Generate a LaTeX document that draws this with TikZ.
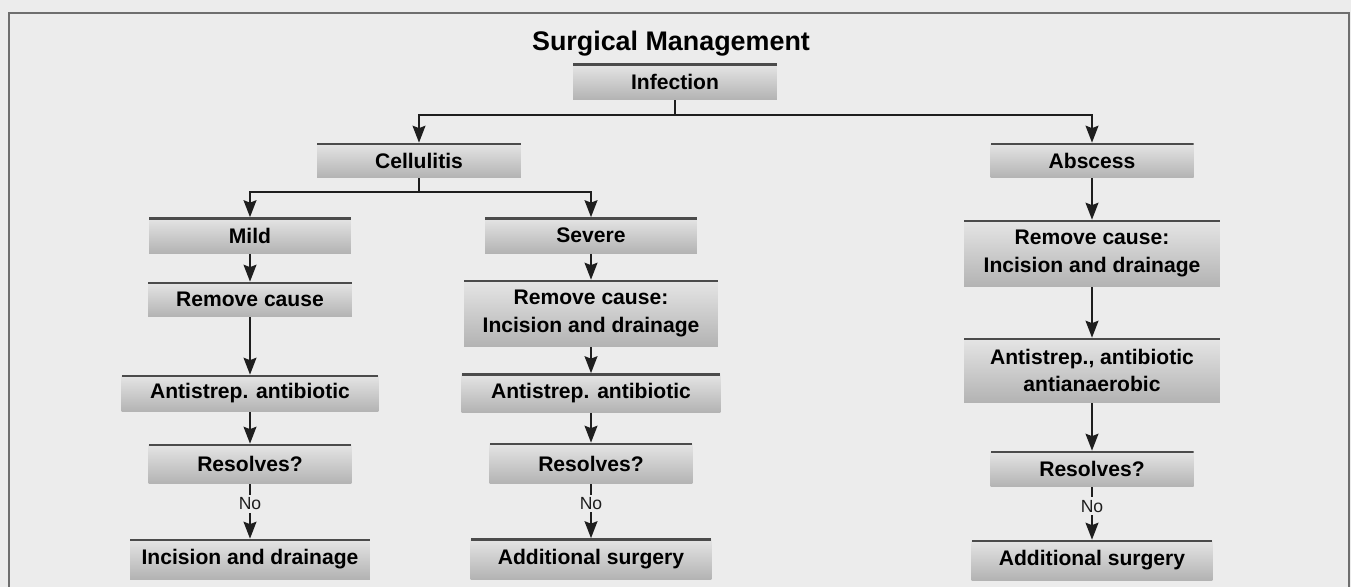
\documentclass[tikz,border=0pt]{standalone}
\usepackage{fontspec}
\setmainfont{Liberation Sans}
\usepackage{tikz}
\usetikzlibrary{arrows.meta,positioning}
\definecolor{pagegray}{RGB}{236, 236, 236}
\definecolor{framegray}{RGB}{110, 110, 110}
\definecolor{rulegray}{RGB}{75, 75, 75}
\definecolor{linkblack}{RGB}{30, 30, 30}

\begin{document}
\begin{tikzpicture}[x=0.02cm, y=-0.02cm,
    stagebox/.style={top color=black!10, bottom color=black!30, draw=none, inner sep=0pt, align=center, font=\fontsize{12}{15.4}\selectfont\bfseries, path picture={\draw[rulegray, line width=0.8mm] (path picture bounding box.north west) -- (path picture bounding box.north east);}},
    flow/.style={line width=0.9pt, linkblack, -{Stealth[length=3.4mm, width=2.6mm, inset=0.5mm]}},
    link/.style={line width=0.9pt, linkblack},
    nolabel/.style={fill=pagegray, inner sep=1.5pt, font=\fontsize{10}{12}\selectfont}]
    % Page and frame
    \fill[pagegray] (0,0) rectangle (1351,587);
    \useasboundingbox (0,0) rectangle (1351,587);
    \draw[framegray, line width=1.2pt] (9,587) -- (9,13) -- (1349,13) -- (1349,587);

    % Title
    \node[font=\fontsize{15.3}{18}\selectfont\bfseries] (title) at (671,44) {Surgical Management};

    % Top levels
    \node[stagebox, minimum width=4.08cm, minimum height=0.72cm] (inf) at (675,82) {Infection};
    \node[stagebox, minimum width=4.08cm, minimum height=0.70cm] (cel) at (419,160.5) {Cellulitis};
    \node[stagebox, minimum width=4.06cm, minimum height=0.70cm] (abs) at (1092,160.5) {Abscess};

    % Mild column
    \node[stagebox, minimum width=4.04cm, minimum height=0.72cm] (mild) at (250,235.5) {Mild};
    \node[stagebox, minimum width=4.08cm, minimum height=0.70cm] (rcm) at (250,299.5) {Remove cause};
    \node[stagebox, minimum width=5.14cm, minimum height=0.74cm] (abm) at (250,393.5) {Antistrep. antibiotic};
    \node[stagebox, minimum width=4.06cm, minimum height=0.80cm] (resm) at (250,464) {Resolves?};
    \node[stagebox, minimum width=4.80cm, minimum height=0.80cm] (incm) at (250,559) {Incision and drainage};

    % Severe column
    \node[stagebox, minimum width=4.24cm, minimum height=0.72cm] (sev) at (591,235.5) {Severe};
    \node[stagebox, minimum width=5.08cm, minimum height=1.34cm] (rcs) at (591,313.5) {Remove cause:\\Incision and drainage};
    \node[stagebox, minimum width=5.18cm, minimum height=0.78cm] (abs2) at (591,393) {Antistrep. antibiotic};
    \node[stagebox, minimum width=4.06cm, minimum height=0.82cm] (ress) at (591,463.5) {Resolves?};
    \node[stagebox, minimum width=4.82cm, minimum height=0.82cm] (adds) at (591,559) {Additional surgery};

    % Abscess column
    \node[stagebox, minimum width=5.12cm, minimum height=1.34cm] (rca) at (1092,253.5) {Remove cause:\\Incision and drainage};
    \node[stagebox, minimum width=5.12cm, minimum height=1.30cm] (aba) at (1092,370.5) {Antistrep., antibiotic\\antianaerobic};
    \node[stagebox, minimum width=4.06cm, minimum height=0.72cm] (resa) at (1092,469) {Resolves?};
    \node[stagebox, minimum width=4.82cm, minimum height=0.80cm] (adda) at (1092,560) {Additional surgery};

    % Branches
    \coordinate (infj) at (675,115);
    \coordinate (celj) at (419,192);
    \draw[link] (inf) -- (infj);
    \draw[flow] (infj) -| (cel);
    \draw[flow] (infj) -| (abs);
    \draw[link] (cel) -- (celj);
    \draw[flow] (celj) -| (mild);
    \draw[flow] (celj) -| (sev);

    % Connectors
    \draw[flow] (mild) -- (rcm);
    \draw[flow] (rcm) -- (abm);
    \draw[flow] (abm) -- (resm);
    \draw[flow] (resm) -- node[nolabel, pos=0.36] {No} (incm);
    \draw[flow] (sev) -- (rcs);
    \draw[flow] (rcs) -- (abs2);
    \draw[flow] (abs2) -- (ress);
    \draw[flow] (ress) -- node[nolabel, pos=0.36] {No} (adds);
    \draw[flow] (abs) -- (rca);
    \draw[flow] (rca) -- (aba);
    \draw[flow] (aba) -- (resa);
    \draw[flow] (resa) -- node[nolabel, pos=0.36] {No} (adda);
\end{tikzpicture}
\end{document}
